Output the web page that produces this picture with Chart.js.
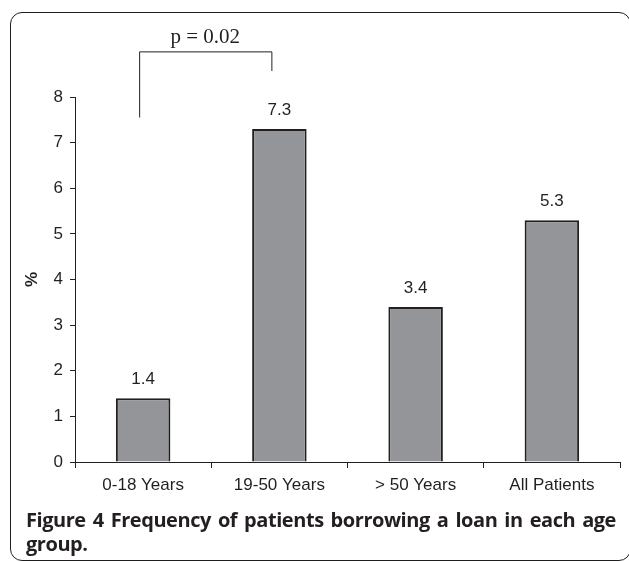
<!DOCTYPE html>
<html>
<head>
<meta charset="utf-8">
<script src="https://cdn.jsdelivr.net/npm/chart.js@4"></script>
<style>
  html, body { margin: 0; padding: 0; background: #fff; }
  #wrap { position: relative; width: 629px; height: 562px; overflow: hidden; }
  #frame {
    position: absolute; left: 10px; top: 12px; width: 621px; height: 549px;
    border: 1.5px solid #231f20; border-radius: 12px; box-sizing: border-box;
  }
  #chart1 { position: absolute; left: 0; top: 0; }
  #caption {
    position: absolute; left: 26px; top: 508px; width: 590px;
    font-family: "Open Sans", sans-serif; font-weight: bold; font-size: 20px;
    letter-spacing: -0.45px;
    line-height: 24px; color: #231f20; text-align: justify;
  }
</style>
</head>
<body>
<div id="wrap">
  <div id="frame"></div>
  <canvas id="chart1" width="629" height="562"></canvas>
  <div id="caption">Figure 4 Frequency of patients borrowing a loan in each age group.</div>
</div>
<script>
  const categories = ["0-18 Years", "19-50 Years", "> 50 Years", "All Patients"];
  const values = [1.4, 7.3, 3.4, 5.3];
  const yTicks = [0, 1, 2, 3, 4, 5, 6, 7, 8];

  // significance bracket between the first two groups
  const bracketGroups = [0, 1];
  const bracketLegs = [7.55, 8.57];
  const bracketTop = 9.0;
  const bracketText = "p = 0.02";

  const ink = "#231f20";
  const sans = "'Liberation Sans', Arial, sans-serif";

  const labelsPlugin = {
    id: "barLabels",
    afterDatasetsDraw(chart) {
      const ctx = chart.ctx;
      const meta = chart.getDatasetMeta(0);
      ctx.save();
      ctx.fillStyle = ink;
      ctx.font = "17px " + sans;
      ctx.textAlign = "center";
      ctx.textBaseline = "middle";
      meta.data.forEach((bar, i) => {
        ctx.fillText(String(values[i]), bar.x, bar.y - 19);
      });

      // bracket
      const x = chart.scales.x;
      const y = chart.scales.y;
      const x1 = x.getPixelForValue(bracketGroups[0]) - 4;
      const x2 = x.getPixelForValue(bracketGroups[1]) - 8;
      const yt = y.getPixelForValue(bracketTop);
      ctx.strokeStyle = ink;
      ctx.lineWidth = 1;
      ctx.beginPath();
      ctx.moveTo(x1 + 0.5, y.getPixelForValue(bracketLegs[0]));
      ctx.lineTo(x1 + 0.5, yt + 0.5);
      ctx.lineTo(x2 + 0.5, yt + 0.5);
      ctx.lineTo(x2 + 0.5, y.getPixelForValue(bracketLegs[1]));
      ctx.stroke();
      ctx.font = "21px 'Liberation Serif', 'Times New Roman', serif";
      ctx.textBaseline = "alphabetic";
      ctx.fillText(bracketText, (x1 + x2) / 2, yt - 8);
      ctx.restore();
    }
  };

  const config = {
    type: "bar",
    data: {
      labels: categories,
      datasets: [{
        data: values,
        backgroundColor: "#939598",
        borderColor: ink,
        borderWidth: 2,
        barPercentage: 0.8,
        categoryPercentage: 0.5,
      }],
    },
    options: {
      responsive: false,
      animation: false,
      devicePixelRatio: 1,
      layout: { padding: { top: 97, right: 9, left: 0, bottom: 0 } },
      plugins: { legend: { display: false }, tooltip: { enabled: false } },
      scales: {
        x: {
          afterFit: (s) => { s.height = 100; },
          grid: { drawOnChartArea: false, tickLength: 6, color: ink, offset: true },
          border: { color: ink, width: 1 },
          ticks: { color: ink, padding: 7, font: { family: sans, size: 17 } },
        },
        y: {
          min: 0, max: 8,
          afterFit: (s) => { s.width = 75; },
          afterBuildTicks: (s) => { s.ticks = yTicks.map((v) => ({ value: v })); },
          grid: { drawOnChartArea: false, tickLength: 5, color: ink },
          border: { color: ink, width: 1 },
          ticks: { color: ink, padding: 7, font: { family: sans, size: 17 } },
          title: {
            display: true, text: "%", color: ink, padding: { top: 22 },
            font: { family: sans, size: 17, weight: "bold" },
          },
        },
      },
    },
    plugins: [labelsPlugin],
  };

  const myChart = new Chart(document.getElementById("chart1"), config);
</script>
</body>
</html>
